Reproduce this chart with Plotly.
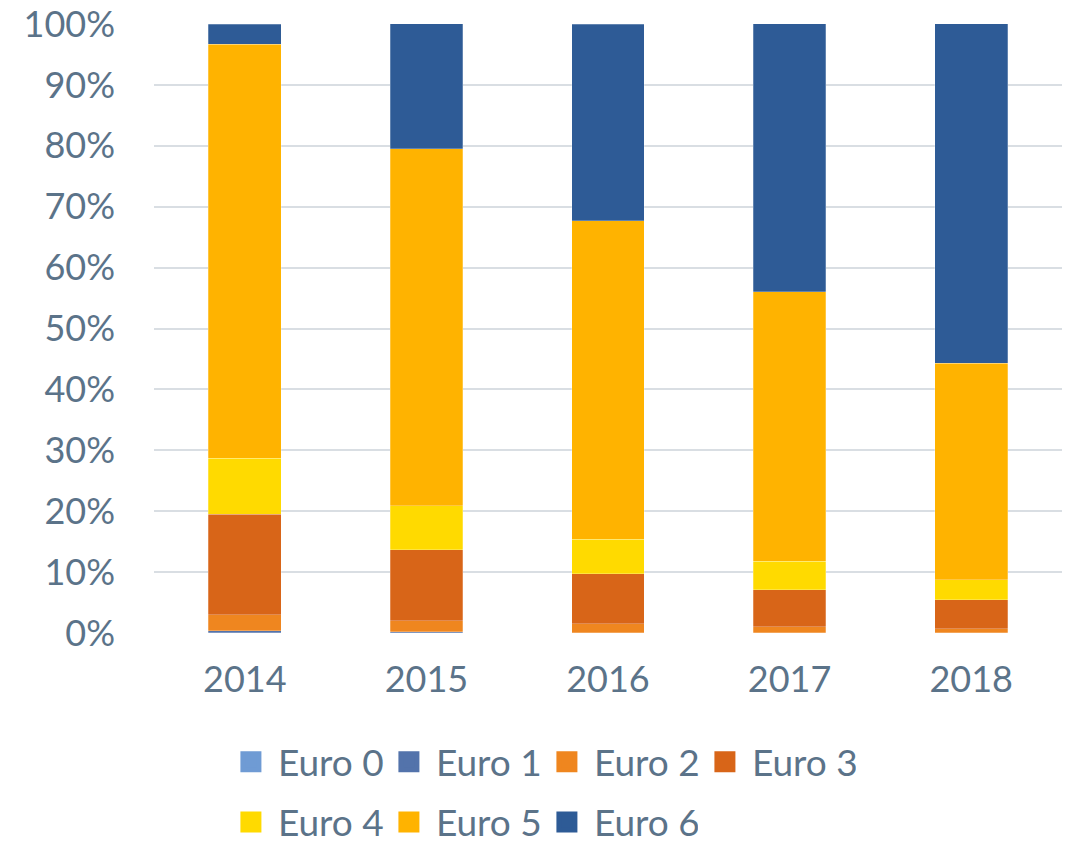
import plotly.graph_objects as go

years = ["2014", "2015", "2016", "2017", "2018"]
euro0 = [0.05, 0.03, 0.0, 0.0, 0.0]
euro1 = [0.3, 0.2, 0.05, 0.02, 0.02]
euro2 = [2.65, 1.8, 1.45, 1.0, 0.7]
euro3 = [16.5, 11.6, 8.2, 6.1, 4.7]
euro4 = [9.2, 7.3, 5.7, 4.7, 3.3]
euro5 = [68.0, 58.6, 52.3, 44.2, 35.6]
euro6 = [3.3, 20.5, 32.3, 44.0, 55.7]

series = [
    ("Euro 0", euro0, "#6f9bd4", "legend"),
    ("Euro 1", euro1, "#5373ab", "legend"),
    ("Euro 2", euro2, "#ef861f", "legend"),
    ("Euro 3", euro3, "#d86518", "legend"),
    ("Euro 4", euro4, "#ffda00", "legend2"),
    ("Euro 5", euro5, "#ffb300", "legend2"),
    ("Euro 6", euro6, "#2e5b96", "legend2"),
]

fig = go.Figure()
for name, vals, color, lg in series:
    fig.add_trace(go.Bar(
        x=years, y=vals, name=name, showlegend=False,
        marker=dict(color=color, line=dict(color="rgba(255,255,255,0.5)", width=0.5)),
    ))
# legend-only entries with larger square swatches
for name, vals, color, lg in series:
    fig.add_trace(go.Scatter(
        x=[None], y=[None], name=name, legend=lg, mode="markers",
        marker=dict(symbol="square", size=16, color=color, line=dict(color=color, width=6)),
        hoverinfo="skip",
    ))

font_color = "#5b7389"
leg_common = dict(orientation="h", xanchor="left", yanchor="middle",
                  entrywidth=99, entrywidthmode="pixels", traceorder="normal",
                  itemsizing="trace", itemwidth=44,
                  font=dict(size=37, color=font_color), bgcolor="rgba(0,0,0,0)")
fig.update_layout(
    barmode="stack",
    bargap=0.6,
    width=1071, height=846,
    margin=dict(l=154, r=9, t=24, b=213, autoexpand=False),
    plot_bgcolor="white", paper_bgcolor="white",
    font=dict(family="Lato, Calibri, sans-serif", size=36, color=font_color),
    xaxis=dict(showgrid=False, showline=False, ticks="", ticklabelstandoff=22,
               tickfont=dict(size=36, color=font_color)),
    yaxis=dict(range=[0, 100], dtick=10, ticksuffix="%", showgrid=True,
               gridcolor="#d9dee3", gridwidth=2, zeroline=False, showline=False,
               ticklabelstandoff=38, tickfont=dict(size=36, color=font_color)),
    legend=dict(x=0.077, y=-0.212, **leg_common),
    legend2=dict(x=0.077, y=-0.311, **leg_common),
)

fig.write_html("out.html", post_script="document.body.style.margin='0';",
               config={"displayModeBar": False})
